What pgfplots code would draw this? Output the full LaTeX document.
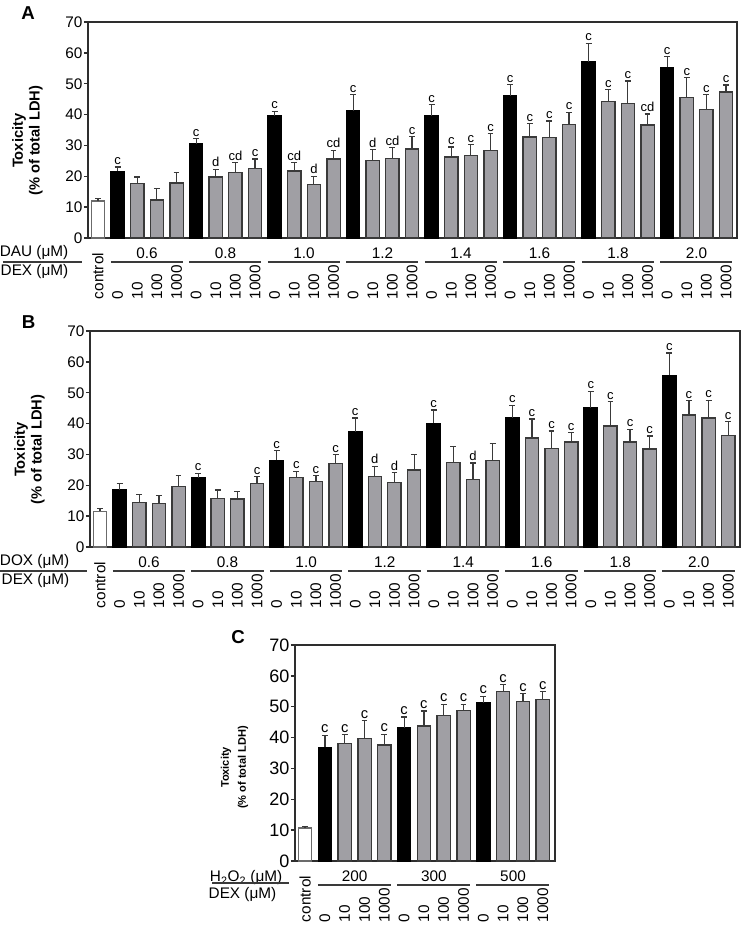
\documentclass[border=0pt]{standalone}
\usepackage{fontspec}
\setmainfont{Liberation Sans}
\usepackage{pgfplots}
\pgfplotsset{compat=1.18}
\usepackage{pgfplotstable}

\definecolor{cBar}{HTML}{A09FA4}
\definecolor{cEdge}{HTML}{3A3A3A}
\definecolor{cAxis}{HTML}{2E2E2E}

\newcommand\fT{\fontsize{11.5}{13}\selectfont}
\newcommand\fL{\fontsize{9.75}{11}\selectfont}

% ---------- panel A (DAU) ----------
\pgfplotstableread{
x y e
0 12.0 0.9
}\ActrlA
\pgfplotstableread{
x y e
1 21.6 1.4
5 30.5 1.7
9 39.5 1.6
13 41.3 5.1
17 39.6 3.7
21 46.0 3.7
25 57.0 6.1
29 55.3 3.4
}\AblkA
\pgfplotstableread{
x y e
2 17.6 2.2
3 12.3 3.8
4 17.8 3.5
6 19.8 2.5
7 21.3 3.2
8 22.5 3.1
10 21.7 2.8
11 17.4 2.6
12 25.6 2.8
14 25.2 3.5
15 25.8 3.5
16 28.9 3.9
18 26.3 3.2
19 26.8 3.5
20 28.4 5.5
22 32.7 4.3
23 32.6 5.3
24 36.7 4.1
26 44.3 3.8
27 43.7 7.2
28 36.6 3.6
30 45.5 6.4
31 41.7 4.7
32 47.3 2.3
}\AgryA
\pgfplotstableread{
x y l
1 23.0 c
5 32.2 c
6 22.3 d
7 24.5 cd
8 25.6 c
9 41.1 c
10 24.5 cd
11 20.0 d
12 28.4 cd
13 46.4 c
14 28.7 d
15 29.3 cd
16 32.8 c
17 43.3 c
18 29.5 c
19 30.3 c
20 33.9 c
21 49.7 c
22 37.0 c
23 37.9 c
24 40.8 c
25 63.1 c
26 48.1 c
27 50.9 c
28 40.2 cd
29 58.7 c
30 51.9 c
31 46.4 c
32 49.6 c
}\AletA

% ---------- panel B (DOX) ----------
\pgfplotstableread{
x y e
0 11.6 0.8
}\ActrlB
\pgfplotstableread{
x y e
1 18.5 2.2
5 22.4 1.5
9 28.1 3.2
13 37.4 4.4
17 40.1 4.3
21 41.9 4.0
25 45.2 5.3
29 55.6 7.3
}\AblkB
\pgfplotstableread{
x y e
2 14.5 2.4
3 14.1 2.5
4 19.7 3.6
6 15.7 2.8
7 15.6 2.5
8 20.5 2.3
10 22.5 2.1
11 21.2 2.0
12 27.1 2.9
14 22.8 3.4
15 20.9 3.2
16 25.0 4.9
18 27.4 5.3
19 21.8 5.4
20 28.0 5.6
22 35.3 6.2
23 32.0 5.6
24 34.0 3.0
26 39.2 7.9
27 34.0 4.2
28 31.8 4.2
30 42.8 4.6
31 41.8 5.8
32 36.2 4.4
}\AgryB
\pgfplotstableread{
x y l
5 23.9 c
8 22.8 c
9 31.3 c
10 24.6 c
11 23.2 c
12 30.0 c
13 41.8 c
14 26.2 d
15 24.1 d
17 44.4 c
19 27.2 d
21 45.9 c
22 41.5 c
23 37.6 c
24 37.0 c
25 50.5 c
26 47.1 c
27 38.2 c
28 36.0 c
29 62.9 c
30 47.4 c
31 47.6 c
32 40.6 c
}\AletB

% ---------- panel C (H2O2) ----------
\pgfplotstableread{
x y e
0 10.7 0.4
}\ActrlC
\pgfplotstableread{
x y e
1 36.8 4.0
5 43.1 3.6
9 51.2 2.2
}\AblkC
\pgfplotstableread{
x y e
2 38.1 2.8
3 39.6 5.9
4 37.6 3.5
6 43.8 4.8
7 47.2 3.6
8 48.8 2.0
10 55.0 2.2
11 51.7 2.6
12 52.4 2.5
}\AgryC
\pgfplotstableread{
x y l
1 40.8 c
2 40.9 c
3 45.5 c
4 41.1 c
5 46.7 c
6 48.6 c
7 50.8 c
8 50.8 c
9 53.4 c
10 57.2 c
11 54.3 c
12 54.9 c
}\AletC

\tikzset{grpline/.style={line width=0.9pt, draw=cEdge}}
\pgfplotsset{
  toxaxis/.style={
    scale only axis, height=162pt,
    ymin=0, ymax=70, ytick={0,10,...,70},
    axis line style={draw=cAxis, line width=1pt},
    ytick style={draw=cAxis, line width=1pt},
    xtick style={draw=none},
    major tick length=3pt, tick align=outside,
    ytick pos=left, xtick pos=bottom,
    xticklabel style={yshift=-43pt, rotate=90, anchor=west, font=\fT, inner sep=0pt},
    yticklabel style={font=\fT, inner sep=1pt},
    /pgf/number format/assume math mode=true,
    clip=false,
    every axis y label/.style={at={(axis description cs:0,0.45)}, xshift=-45.4pt,
      rotate=90, anchor=center, align=center,
      font=\bfseries\fontsize{11}{12.5}\selectfont},
    ylabel={Toxicity\\(\% of total LDH)},
  },
  bar/.style={ybar, bar width=10pt, bar shift=0pt, line width=1pt, draw=cEdge,
    error bars/y dir=plus, error bars/y explicit,
    error bars/error bar style={line width=0.9pt, draw=cEdge, solid},
    error bars/error mark options={rotate=90, mark size=2.2pt, line width=0.9pt, draw=cEdge}},
  letters/.style={draw=none, mark=none, nodes near coords, point meta=explicit symbolic,
    nodes near coords style={anchor=south, font=\fL, inner sep=1.5pt, text=black}},
}

% group label and underline: #1 line start, #2 line end, #3 label x, #4 text
\newcommand\grp[4]{%
  \node[font=\fT] at ([yshift=-11.25pt]axis cs:#3,0) {#4};
  \draw[grpline] ([yshift=-18pt]axis cs:#1,0) -- ([yshift=-18pt]axis cs:#2,0);}

\def\dexlabels{control,0,10,100,1000,0,10,100,1000,0,10,100,1000,0,10,100,1000,0,10,100,1000,0,10,100,1000,0,10,100,1000,0,10,100,1000}

\begin{document}
\begin{tikzpicture}
\useasboundingbox (0pt,0pt) rectangle (558.75pt,-694.5pt);

% ===== A =====
\begin{axis}[toxaxis, at={(66pt,-178.5pt)}, anchor=south west, width=486.75pt,
  xmin=-0.51, xmax=32.56, xtick={0,...,32}, xticklabels/.expand once=\dexlabels]
  \addplot[bar, fill=white, draw=cEdge!75] table[x=x, y=y, y error=e] {\ActrlA};
  \addplot[bar, fill=black, draw=black] table[x=x, y=y, y error=e] {\AblkA};
  \addplot[bar, fill=cBar] table[x=x, y=y, y error=e] {\AgryA};
  \addplot[letters] table[x=x, y=y, meta=l] {\AletA};
  \grp{0.65}{4.33}{2.5}{0.6}
  \grp{4.65}{8.33}{6.5}{0.8}
  \grp{8.65}{12.33}{10.5}{1.0}
  \grp{12.65}{16.33}{14.5}{1.2}
  \grp{16.65}{20.33}{18.5}{1.4}
  \grp{20.65}{24.33}{22.5}{1.6}
  \grp{24.65}{28.33}{26.5}{1.8}
  \grp{28.65}{32.33}{30.5}{2.0}
  \node[anchor=east, font=\fT] at ([xshift=-11.25pt, yshift=-11.25pt]axis description cs:0,0) {DAU (μM)};
  \draw[grpline] ([xshift=-63.75pt, yshift=-18pt]axis description cs:0,0) -- ([xshift=-4.5pt, yshift=-18pt]axis description cs:0,0);
  \node[anchor=east, font=\fT] at ([xshift=-11.25pt, yshift=-25.5pt]axis description cs:0,0) {DEX (μM)};
  \node[font=\bfseries\fontsize{14}{16}\selectfont] at ([xshift=-45pt, yshift=6.75pt]axis description cs:0,1) {A};
\end{axis}

% ===== B =====
\begin{axis}[toxaxis, at={(67.5pt,-410.25pt)}, anchor=south west, width=487.5pt,
  xmin=-0.51, xmax=32.6, xtick={0,...,32}, xticklabels/.expand once=\dexlabels]
  \addplot[bar, fill=white, draw=cEdge!75] table[x=x, y=y, y error=e] {\ActrlB};
  \addplot[bar, fill=black, draw=black] table[x=x, y=y, y error=e] {\AblkB};
  \addplot[bar, fill=cBar] table[x=x, y=y, y error=e] {\AgryB};
  \addplot[letters] table[x=x, y=y, meta=l] {\AletB};
  \grp{0.65}{4.33}{2.5}{0.6}
  \grp{4.65}{8.33}{6.5}{0.8}
  \grp{8.65}{12.33}{10.5}{1.0}
  \grp{12.65}{16.33}{14.5}{1.2}
  \grp{16.65}{20.33}{18.5}{1.4}
  \grp{20.65}{24.33}{22.5}{1.6}
  \grp{24.65}{28.33}{26.5}{1.8}
  \grp{28.65}{32.33}{30.5}{2.0}
  \node[anchor=east, font=\fT] at ([xshift=-12pt, yshift=-11.25pt]axis description cs:0,0) {DOX (μM)};
  \draw[grpline] ([xshift=-67.5pt, yshift=-18pt]axis description cs:0,0) -- ([xshift=-2.5pt, yshift=-18pt]axis description cs:0,0);
  \node[anchor=east, font=\fT] at ([xshift=-12pt, yshift=-25.5pt]axis description cs:0,0) {DEX (μM)};
  \node[font=\bfseries\fontsize{14}{16}\selectfont] at ([xshift=-46pt, yshift=6.75pt]axis description cs:0,1) {B};
\end{axis}

% ===== C =====
\begin{axis}[toxaxis, at={(221.25pt,-645.75pt)}, anchor=south west, width=195pt,
  xmin=-0.51, xmax=12.62, xtick={0,...,12},
  xticklabels={control,0,10,100,1000,0,10,100,1000,0,10,100,1000},
  yticklabel style={font=\fontsize{13.5}{15}\selectfont},
  every axis y label/.append style={at={(axis description cs:0,0.44)}, xshift=-1.1pt,
    font=\bfseries\fontsize{8.3}{12.8}\selectfont},
  letters/.append style={nodes near coords style={font=\fontsize{11}{12}\selectfont}}]
  \addplot[bar, fill=white, draw=cEdge!75] table[x=x, y=y, y error=e] {\ActrlC};
  \addplot[bar, fill=black, draw=black] table[x=x, y=y, y error=e] {\AblkC};
  \addplot[bar, fill=cBar] table[x=x, y=y, y error=e] {\AgryC};
  \addplot[letters] table[x=x, y=y, meta=l] {\AletC};
  \grp{0.65}{4.33}{2.5}{200}
  \grp{4.65}{8.33}{6.5}{300}
  \grp{8.65}{12.33}{10.5}{500}
  \node[anchor=east, font=\fT] at ([xshift=-6pt, yshift=-12.5pt]axis description cs:0,0) {H\textsubscript{2}O\textsubscript{2} (μM)};
  \draw[grpline] ([xshift=-62pt, yshift=-16.5pt]axis description cs:0,0) -- ([xshift=-4.5pt, yshift=-16.5pt]axis description cs:0,0);
  \node[anchor=east, font=\fT] at ([xshift=-10.5pt, yshift=-25.5pt]axis description cs:0,0) {DEX (μM)};
  \node[font=\bfseries\fontsize{14}{16}\selectfont] at ([xshift=-42.75pt, yshift=6pt]axis description cs:0,1) {C};
\end{axis}
\end{tikzpicture}
\end{document}
